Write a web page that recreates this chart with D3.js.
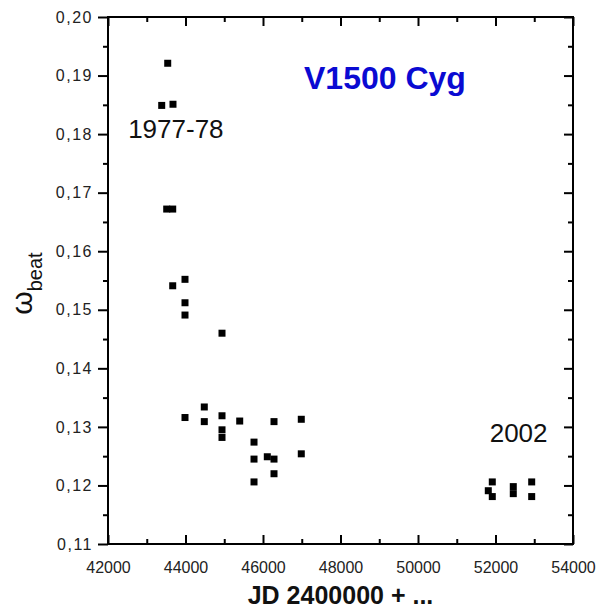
<!DOCTYPE html>
<html>
<head>
<meta charset="utf-8">
<script src="https://cdn.jsdelivr.net/npm/d3@7"></script>
<style>
  html, body { margin: 0; padding: 0; background: #fff; }
  svg { display: block; font-family: "Liberation Sans", Arial, sans-serif; }
</style>
</head>
<body>
<svg id="chart" width="596" height="612"></svg>
<script>
// ---- data ----
const jd = [
  43541, 43386, 43677, 43515, 43670, 43670, 43987, 43987, 43987,
  44942,
  44485, 43987, 44485, 44942, 44942, 44942, 45399, 46284, 46988,
  45768, 45768, 46111, 46284, 46988, 46284, 45768,
  51917, 51814, 51917, 52459, 52459, 52934, 52934
];
const omega = [
  0.1921, 0.1849, 0.1851, 0.1672, 0.1672, 0.1541, 0.1552, 0.1512, 0.1491,
  0.1460,
  0.1334, 0.1316, 0.1309, 0.1319, 0.1295, 0.1282, 0.1310, 0.1309, 0.1313,
  0.1274, 0.1245, 0.1249, 0.1245, 0.1254, 0.1220, 0.1206,
  0.1206, 0.1191, 0.1181, 0.1198, 0.1186, 0.1206, 0.1181
];
const xMajorTicks = [42000, 44000, 46000, 48000, 50000, 52000, 54000];
const xMinorTicks = [43000, 45000, 47000, 49000, 51000, 53000];
const yMajorTicks = [0.11, 0.12, 0.13, 0.14, 0.15, 0.16, 0.17, 0.18, 0.19, 0.20];
const yMinorTicks = [0.115, 0.125, 0.135, 0.145, 0.155, 0.165, 0.175, 0.185, 0.195];
const annotations = [
  { text: "1977-78", jd: 42520, w: 0.1793 },
  { text: "2002", jd: 51850, w: 0.1274 }
];

// ---- layout ----
const L = 108, R = 573, T = 17, B = 544;
const svg = d3.select("#chart");
const x = d3.scaleLinear().domain([42000, 54000]).range([L, R]);
const y = d3.scaleLinear().domain([0.11, 0.20]).range([B, T]);
const fmtY = d => d3.format(".2f")(d).replace(".", ",");

function styleAxis(g) {
  g.select(".domain").remove();
  g.selectAll(".tick line").attr("stroke", "#000").attr("stroke-width", 2);
  g.selectAll(".tick text").attr("fill", "#222").style("font-size", "16px")
    .style("font-family", "'Liberation Sans', Arial, sans-serif");
}

// left axis (ticks outward)
svg.append("g").attr("transform", `translate(${L},0)`)
  .call(d3.axisLeft(y).tickValues(yMajorTicks).tickSize(10).tickPadding(5).tickFormat(fmtY))
  .call(styleAxis)
  .call(g => g.selectAll(".tick text").style("letter-spacing", "1.5px"));
svg.append("g").attr("transform", `translate(${L},0)`)
  .call(d3.axisLeft(y).tickValues(yMinorTicks).tickSize(5).tickFormat(""))
  .call(styleAxis);

// right axis (ticks inward)
svg.append("g").attr("transform", `translate(${R},0)`)
  .call(d3.axisRight(y).tickValues(yMajorTicks).tickSize(-9).tickFormat(""))
  .call(styleAxis);
svg.append("g").attr("transform", `translate(${R},0)`)
  .call(d3.axisRight(y).tickValues(yMinorTicks).tickSize(-5).tickFormat(""))
  .call(styleAxis);

// bottom axis (ticks inward)
svg.append("g").attr("transform", `translate(0,${B})`)
  .call(d3.axisBottom(x).tickValues(xMajorTicks).tickSize(-9).tickPadding(18).tickFormat(d3.format("d")))
  .call(styleAxis);
svg.append("g").attr("transform", `translate(0,${B})`)
  .call(d3.axisBottom(x).tickValues(xMinorTicks).tickSize(-5).tickFormat(""))
  .call(styleAxis);

// top axis (ticks inward)
svg.append("g").attr("transform", `translate(0,${T})`)
  .call(d3.axisTop(x).tickValues(xMajorTicks).tickSize(-9).tickFormat(""))
  .call(styleAxis);
svg.append("g").attr("transform", `translate(0,${T})`)
  .call(d3.axisTop(x).tickValues(xMinorTicks).tickSize(-5).tickFormat(""))
  .call(styleAxis);

// frame
svg.append("rect").attr("x", L).attr("y", T).attr("width", R - L).attr("height", B - T)
  .attr("fill", "none").attr("stroke", "#000").attr("stroke-width", 2);

// data points
const s = 7;
svg.append("g").selectAll("rect").data(jd.map((d, i) => [d, omega[i]])).join("rect")
  .attr("x", d => x(d[0]) - s / 2).attr("y", d => y(d[1]) - s / 2)
  .attr("width", s).attr("height", s).attr("fill", "#000");

// annotations
svg.append("g").selectAll("text").data(annotations).join("text")
  .attr("x", d => x(d.jd)).attr("y", d => y(d.w))
  .style("font-size", "26px").attr("fill", "#111").text(d => d.text);

// title
svg.append("text").attr("x", 304).attr("y", 89)
  .style("font-size", "32px").style("font-weight", "bold").attr("fill", "#0a0ad2")
  .text("V1500 Cyg");

// x axis title
svg.append("text").attr("x", (L + R) / 2).attr("y", 604).attr("text-anchor", "middle")
  .style("font-size", "25px").style("font-weight", "bold").attr("fill", "#111")
  .text("JD 2400000 + ...");

// y axis title
const yt = svg.append("text").attr("transform", `translate(32,${(T + B) / 2 + 3}) rotate(-90)`)
  .attr("text-anchor", "middle").attr("fill", "#111");
yt.append("tspan").style("font-size", "30px").text("ω");
yt.append("tspan").style("font-size", "20px").attr("dy", 10).text("beat");
</script>
</body>
</html>
